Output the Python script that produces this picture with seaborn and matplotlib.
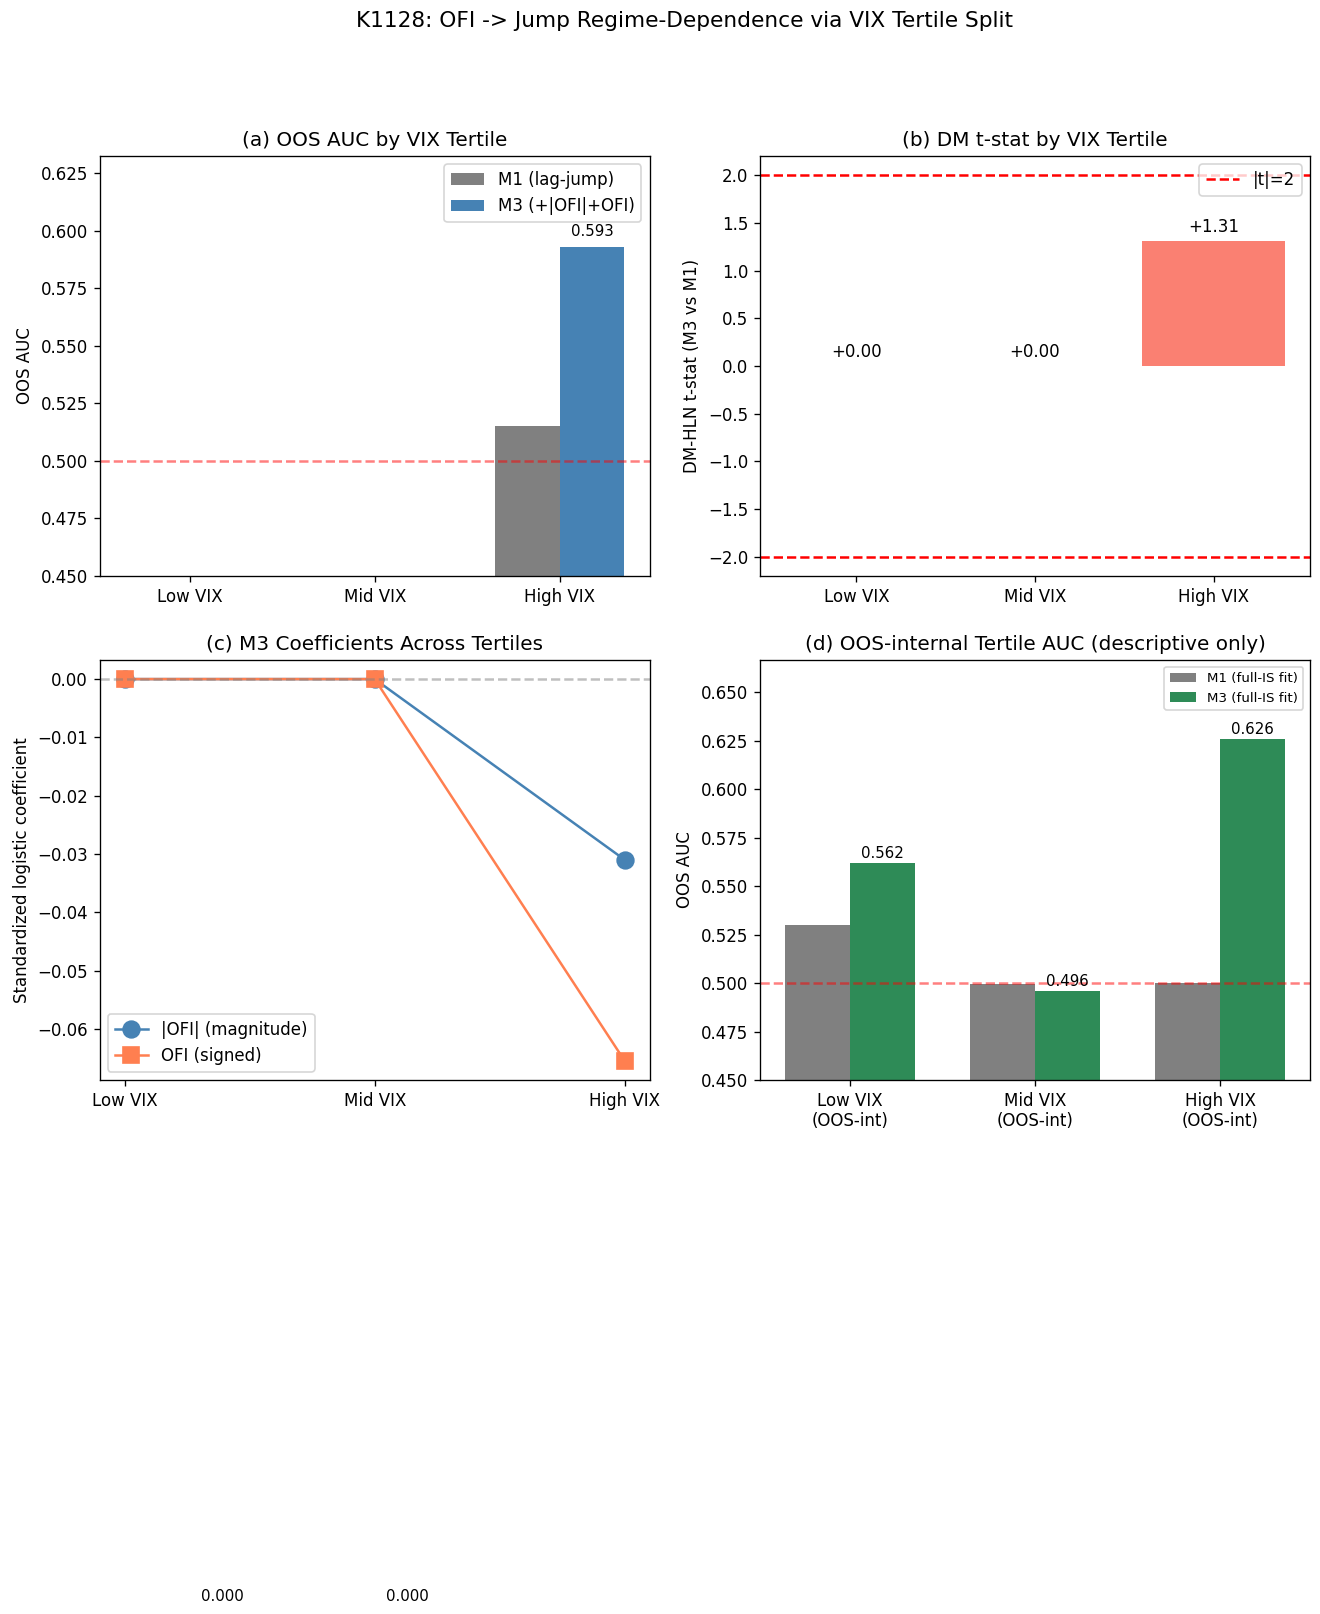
import numpy as np
import pandas as pd
import matplotlib
matplotlib.use("Agg")
import matplotlib.pyplot as plt
import seaborn as sns

# ---------------- data ----------------
tertiles = ["Low VIX", "Mid VIX", "High VIX"]
tertiles_int = ["Low VIX\n(OOS-int)", "Mid VIX\n(OOS-int)", "High VIX\n(OOS-int)"]

# (a) OOS AUC by VIX tertile
auc_m1 = [0.0, 0.0, 0.515]
auc_m3 = [0.0, 0.0, 0.593]
models_a = ["M1 (lag-jump)", "M3 (+|OFI|+OFI)"]

# (b) DM t-stat
dm_t = [0.0, 0.0, 1.31]

# (c) M3 coefficients
coef_abs_ofi = [0.0, 0.0, -0.0310]
coef_ofi = [0.0, 0.0, -0.0655]
coef_names = ["|OFI| (magnitude)", "OFI (signed)"]

# (d) OOS-internal tertile AUC
int_m1 = [0.530, 0.4995, 0.500]
int_m3 = [0.562, 0.496, 0.626]
models_d = ["M1 (full-IS fit)", "M3 (full-IS fit)"]

# ---------------- figure ----------------
W, H, DPI = 1320, 1614, 120
fig = plt.figure(figsize=(W / DPI, H / DPI), dpi=DPI)

def box(left, top, width=550, height=420):
    return [left / W, (H - top - height) / H, width / W, height / H]

ax_a = fig.add_axes(box(99.7, 156.0))
ax_b = fig.add_axes(box(760.0, 156.0))
ax_c = fig.add_axes(box(99.7, 660.0))
ax_d = fig.add_axes(box(760.0, 660.0))

fig.suptitle("K1128: OFI -> Jump Regime-Dependence via VIX Tertile Split",
             x=684 / W, y=1 - 20.6 / H, va="center", fontsize=13)

# ---- (a)
df_a = pd.DataFrame({
    "tertile": tertiles * 2,
    "auc": auc_m1 + auc_m3,
    "model": [models_a[0]] * 3 + [models_a[1]] * 3,
})
sns.barplot(data=df_a, x="tertile", y="auc", hue="model", hue_order=models_a,
            order=tertiles, palette={models_a[0]: "gray", models_a[1]: "steelblue"},
            width=0.7, saturation=1, errorbar=None, ax=ax_a)
ax_a.axhline(0.5, color="red", ls="--", alpha=0.5)
for i, v in enumerate(auc_m3):
    ax_a.text(i + 0.175, v + 0.0035, f"{v:.3f}", ha="center", va="bottom", fontsize=9)
ax_a.set_ylim(0.45, 0.6325)
ax_a.set_xlim(-0.487, 2.487)
ax_a.set_xlabel("")
ax_a.set_ylabel("OOS AUC")
ax_a.set_title("(a) OOS AUC by VIX Tertile", fontsize=12)
sns.move_legend(ax_a, "upper right", title=None)

# ---- (b)
sns.barplot(x=tertiles, y=dm_t, color="salmon", saturation=1, width=0.8,
            errorbar=None, ax=ax_b)
ax_b.axhline(2, color="red", ls="--", label="|t|=2")
ax_b.axhline(-2, color="red", ls="--")
for i, v in enumerate(dm_t):
    ax_b.text(i, v + 0.05 if v >= 0 else v - 0.05, f"{v:+.2f}", ha="center",
              va="bottom" if v >= 0 else "top", fontsize=10)
ax_b.set_ylim(-2.2, 2.2)
ax_b.set_xlim(-0.54, 2.54)
ax_b.set_ylabel("DM-HLN t-stat (M3 vs M1)")
ax_b.set_title("(b) DM t-stat by VIX Tertile", fontsize=12)
ax_b.legend(loc="upper right")

# ---- (c)
pos = list(range(len(tertiles)))
sns.lineplot(x=pos, y=coef_abs_ofi, color="steelblue", marker="o", markersize=10,
             markeredgecolor="steelblue", markeredgewidth=1, label=coef_names[0],
             errorbar=None, ax=ax_c)
sns.lineplot(x=pos, y=coef_ofi, color="coral", marker="s", markersize=10,
             markeredgecolor="coral", markeredgewidth=1, label=coef_names[1],
             errorbar=None, ax=ax_c)
ax_c.axhline(0, color="gray", ls="--", alpha=0.5)
ax_c.set_xticks(pos)
ax_c.set_xticklabels(tertiles)
ax_c.set_ylabel("Standardized logistic coefficient")
ax_c.set_title("(c) M3 Coefficients Across Tertiles", fontsize=12)
ax_c.legend(loc="lower left")

# ---- (d)
df_d = pd.DataFrame({
    "tertile": tertiles_int * 2,
    "auc": int_m1 + int_m3,
    "model": [models_d[0]] * 3 + [models_d[1]] * 3,
})
sns.barplot(data=df_d, x="tertile", y="auc", hue="model", hue_order=models_d,
            order=tertiles_int, palette={models_d[0]: "gray", models_d[1]: "seagreen"},
            width=0.7, saturation=1, errorbar=None, ax=ax_d)
ax_d.axhline(0.5, color="red", ls="--", alpha=0.5)
for i, v in enumerate(int_m3):
    ax_d.text(i + 0.175, v + 0.001, f"{v:.3f}", ha="center", va="bottom", fontsize=9)
ax_d.set_ylim(0.45, 0.6667)
ax_d.set_xlim(-0.485, 2.485)
ax_d.set_xlabel("")
ax_d.set_ylabel("OOS AUC")
ax_d.set_title("(d) OOS-internal Tertile AUC (descriptive only)", fontsize=12)
sns.move_legend(ax_d, "upper right", title=None, fontsize=8)

fig.savefig("out.png", dpi=DPI)
